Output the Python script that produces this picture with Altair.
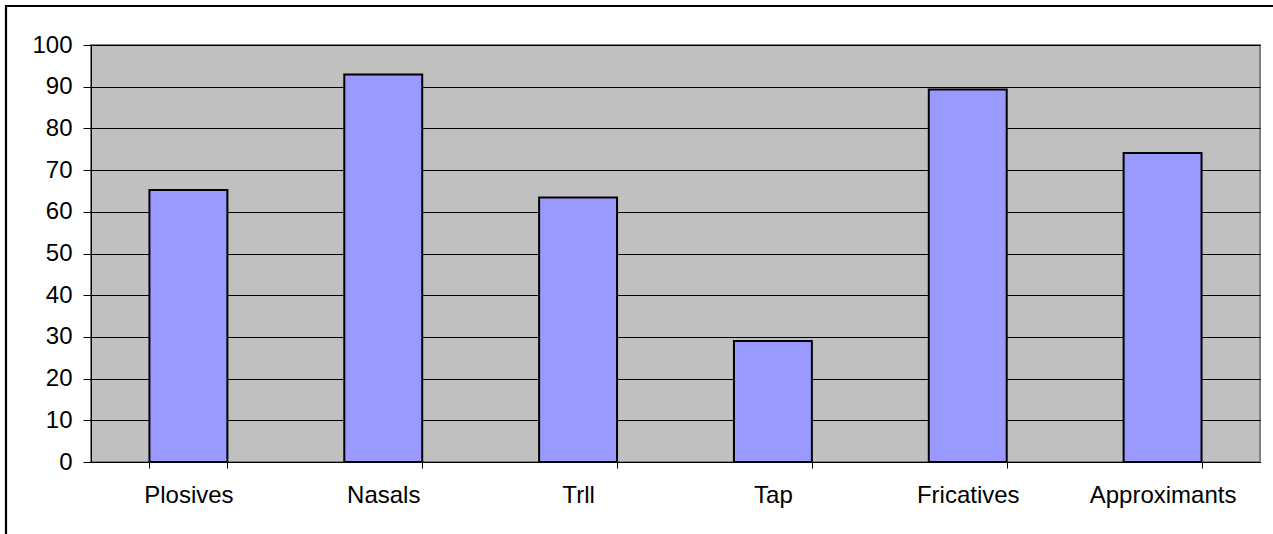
import altair as alt
import pandas as pd

# Share of languages having each consonant manner class (%)
manners = ["Plosives", "Nasals", "Trll", "Tap", "Fricatives", "Approximants"]
shares = [65.2, 92.9, 63.4, 29.0, 89.3, 74.1]
y_ticks = list(range(0, 101, 10))

df = pd.DataFrame({"manner": manners, "share": shares})

PLOT_W, PLOT_H = 1169, 417
FONT = "Liberation Sans"

bars = (
    alt.Chart(df)
    .mark_bar(fill="#9999FF", stroke="black", strokeWidth=2)
    .encode(
        x=alt.X(
            "manner:N",
            sort=manners,
            scale=alt.Scale(paddingInner=0.6, paddingOuter=0.3),
            axis=alt.Axis(
                title=None,
                labelAngle=0,
                tickBand="extent",
                tickSize=6,
                tickColor="black",
                domainColor="black",
                labelFont=FONT,
                labelFontSize=24,
                labelColor="black",
                labelPadding=15,
                grid=False,
            ),
        ),
        y=alt.Y(
            "share:Q",
            scale=alt.Scale(domain=[0, 100], nice=False),
            axis=alt.Axis(
                title=None,
                values=y_ticks,
                tickSize=8,
                tickColor="black",
                domainColor="black",
                labelFont=FONT,
                labelFontSize=24,
                labelColor="black",
                labelPadding=11,
                grid=True,
                gridColor="black",
                gridWidth=1,
            ),
        ),
    )
)

# Outer chart frame (left and top edges run past the canvas on the right and bottom)
frame = (
    alt.Chart(pd.DataFrame({"f": [0]}))
    .mark_rect(fill=None, stroke="black", strokeWidth=2.2)
    .encode(
        x=alt.value(-85),
        x2=alt.value(PLOT_W + 60),
        y=alt.value(-39),
        y2=alt.value(PLOT_H + 120),
    )
)

chart = (
    alt.layer(bars, frame)
    .properties(
        width=PLOT_W,
        height=PLOT_H,
        padding={"left": 91, "top": 45, "right": 13, "bottom": 72},
        autosize=alt.AutoSizeParams(type="none"),
        background="white",
    )
    .configure_view(fill="#C0C0C0", stroke="#808080", strokeWidth=2)
)

chart.save("out.html", embed_options={"renderer": "svg", "actions": False})
